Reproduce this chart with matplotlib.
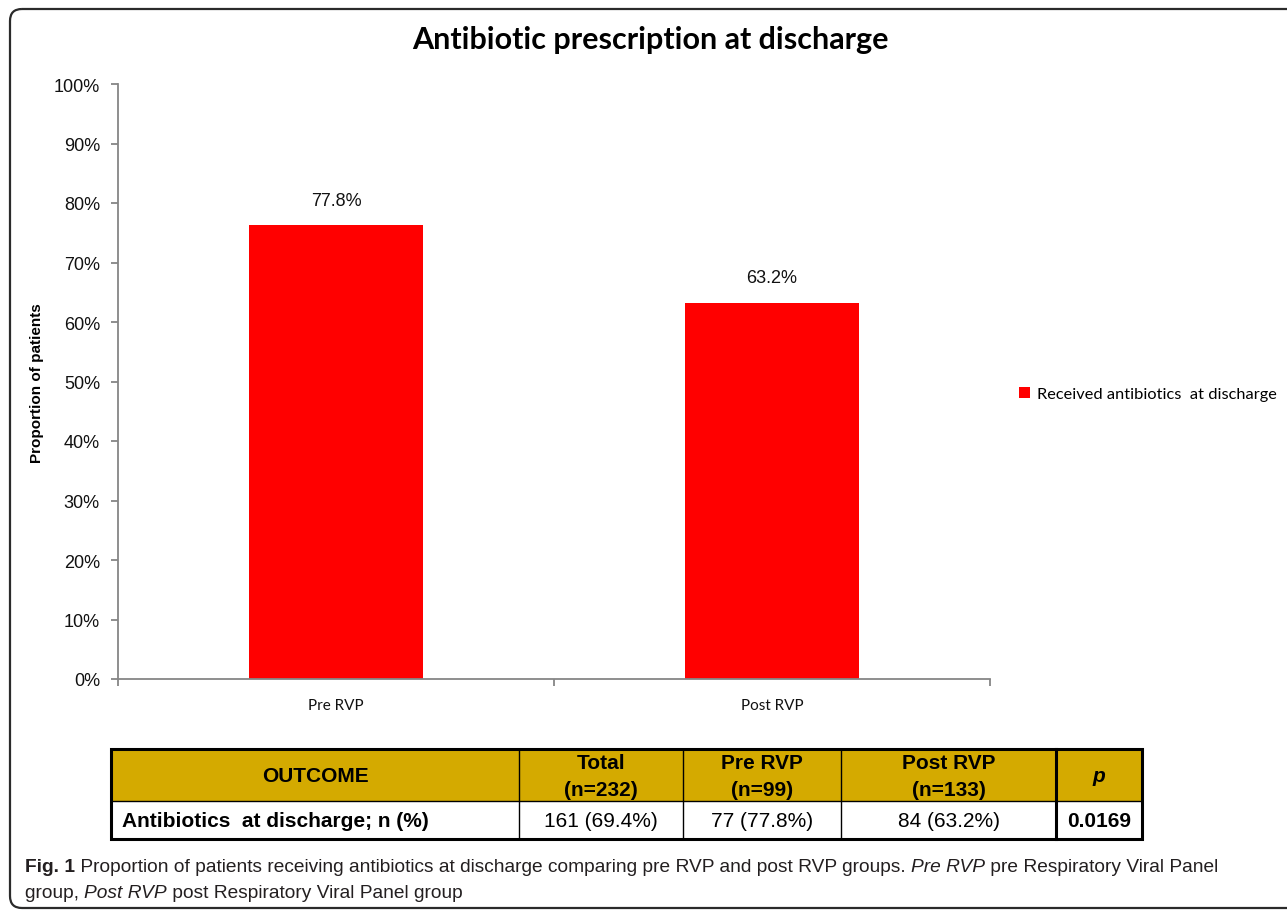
import matplotlib

matplotlib.use("Agg")
import matplotlib.pyplot as plt
from matplotlib.patches import FancyBboxPatch, Rectangle


W, H = 1287, 912

TITLE = "Antibiotic prescription at discharge"
CATEGORIES = ["Pre RVP", "Post RVP"]
BAR_HEIGHTS = [76.3, 63.2]
BAR_LABELS = ["77.8%", "63.2%"]
LEGEND_LABEL = "Received antibiotics  at discharge"
Y_LABEL = "Proportion of patients"
Y_TICKS = [0, 10, 20, 30, 40, 50, 60, 70, 80, 90, 100]
Y_TICK_LABELS = [f"{v}%" for v in Y_TICKS]

TABLE_HEADER = ["OUTCOME", "Total\n(n=232)", "Pre RVP\n(n=99)", "Post RVP\n(n=133)", "p"]
TABLE_ROW = ["Antibiotics  at discharge; n (%)", "161 (69.4%)", "77 (77.8%)", "84 (63.2%)", "0.0169"]

CAPTION_LINE1 = [
    ("Fig. 1", "bold"),
    (" Proportion of patients receiving antibiotics at discharge comparing pre RVP and post RVP groups. ", "normal"),
    ("Pre RVP", "italic"),
    (" pre Respiratory Viral Panel", "normal"),
]
CAPTION_LINE2 = [
    ("group, ", "normal"),
    ("Post RVP", "italic"),
    (" post Respiratory Viral Panel group", "normal"),
]

ARIAL = ["Liberation Sans", "DejaVu Sans"]
CALIBRI = ["Lato", "DejaVu Sans"]
NARROW = ["Liberation Sans Narrow", "Liberation Sans", "DejaVu Sans"]

BAR_COLOR = "#FF0000"
AXIS_GRAY = "#868686"
HEADER_GOLD = "#D4AA00"
CAPTION_COLOR = "#231F20"

COL_EDGES = [111, 519, 683, 841, 1056, 1142]
ROW_EDGES = [750, 802, 840]


def draw_runs(ax, x, y, runs, size):
    """按顺序排布不同字形的文字片段。"""
    renderer = ax.figure.canvas.get_renderer()
    for text, style in runs:
        kw = {"fontsize": size, "family": NARROW, "color": CAPTION_COLOR}
        if style == "bold":
            kw["fontweight"] = "bold"
        elif style == "italic":
            kw["fontstyle"] = "italic"
        t = ax.text(x, y, text, ha="left", va="center", **kw)
        x += t.get_window_extent(renderer=renderer).width


def main() -> None:
    fig = plt.figure(figsize=(W / 100, H / 100), dpi=100)

    # 叠加层：像素坐标，用于边框、表格与图注
    over = fig.add_axes([0, 0, 1, 1])
    over.set_xlim(0, W)
    over.set_ylim(H, 0)
    over.axis("off")

    frame = FancyBboxPatch((10, 10), 1320, 899, boxstyle="round,pad=0,rounding_size=12",
                           facecolor="none", edgecolor="#2b2b2b", linewidth=1.6)
    over.add_patch(frame)

    over.text(650, 40, TITLE, ha="center", va="center", fontsize=22, fontweight="bold",
              family=CALIBRI, color="black")

    ax = fig.add_axes([118 / W, 1 - 680 / H, 872 / W, 595 / H])
    x_pos = list(range(len(CATEGORIES)))
    bars = ax.bar(x_pos, BAR_HEIGHTS, width=0.4, color=BAR_COLOR, label=LEGEND_LABEL, zorder=2)
    for bar, lab in zip(bars, BAR_LABELS):
        ax.annotate(lab, (bar.get_x() + bar.get_width() / 2, bar.get_height()),
                    xytext=(0, 18), textcoords="offset points", ha="center", va="center",
                    fontsize=13, family=ARIAL, color="#111111")

    ax.set_xlim(-0.5, 1.5)
    ax.set_ylim(0, 100)
    for side in ("top", "right"):
        ax.spines[side].set_visible(False)
    for side in ("left", "bottom"):
        ax.spines[side].set_color(AXIS_GRAY)
        ax.spines[side].set_linewidth(1.3)

    ax.set_yticks(Y_TICKS, Y_TICK_LABELS)
    ax.tick_params(axis="y", direction="out", length=5, width=1.3, color=AXIS_GRAY, pad=8,
                   labelsize=13, labelcolor="#111111")
    for t in ax.get_yticklabels():
        t.set_family(ARIAL)

    ax.set_xticks(x_pos, CATEGORIES)
    ax.set_xticks([-0.5, 0.5, 1.5], minor=True)
    ax.tick_params(axis="x", which="major", length=0, pad=14, labelsize=11, labelcolor="#111111")
    ax.tick_params(axis="x", which="minor", direction="out", length=5, width=1.3, color=AXIS_GRAY)
    for t in ax.get_xticklabels():
        t.set_family(CALIBRI)

    over.text(37, 383, Y_LABEL, rotation=90, ha="center", va="center", fontsize=11,
              fontweight="bold", family=ARIAL, color="black")

    handles, labels = ax.get_legend_handles_labels()
    fig.legend(handles, labels, loc="center left", bbox_to_anchor=(1004 / W, 1 - 395 / H),
               frameon=False, handlelength=0.7, handleheight=0.7, handletextpad=0.4,
               prop={"family": CALIBRI, "size": 11.75})

    # 表格
    over.add_patch(Rectangle((COL_EDGES[0], ROW_EDGES[0]), COL_EDGES[-1] - COL_EDGES[0],
                             ROW_EDGES[1] - ROW_EDGES[0], facecolor=HEADER_GOLD, edgecolor="none"))
    for xe in COL_EDGES[1:-1]:
        lw = 2.2 if xe == COL_EDGES[-2] else 1.0
        over.plot([xe, xe], [ROW_EDGES[0], ROW_EDGES[-1]], color="black", linewidth=lw)
    over.plot([COL_EDGES[0], COL_EDGES[-1]], [ROW_EDGES[1], ROW_EDGES[1]], color="black", linewidth=1.0)
    over.add_patch(Rectangle((COL_EDGES[0], ROW_EDGES[0]), COL_EDGES[-1] - COL_EDGES[0],
                             ROW_EDGES[-1] - ROW_EDGES[0], facecolor="none", edgecolor="black",
                             linewidth=2.2))

    y_head = (ROW_EDGES[0] + ROW_EDGES[1]) / 2
    y_row = (ROW_EDGES[1] + ROW_EDGES[2]) / 2
    for i, txt in enumerate(TABLE_HEADER):
        xc = (COL_EDGES[i] + COL_EDGES[i + 1]) / 2
        style = "italic" if txt == "p" else "normal"
        over.text(xc, y_head + 1, txt, ha="center", va="center", fontsize=15, fontweight="bold",
                  fontstyle=style, family=NARROW, linespacing=1.55, color="black")
    for i, txt in enumerate(TABLE_ROW):
        bold = i in (0, len(TABLE_ROW) - 1)
        if i == 0:
            xt, ha = COL_EDGES[0] + 11, "left"
        else:
            xt, ha = (COL_EDGES[i] + COL_EDGES[i + 1]) / 2, "center"
        over.text(xt, y_row + 1, txt, ha=ha, va="center", fontsize=15,
                  fontweight="bold" if bold else "normal", family=NARROW, color="black")

    # 图注
    draw_runs(over, 25, 868, CAPTION_LINE1, 13.8)
    draw_runs(over, 25, 894, CAPTION_LINE2, 13.8)

    fig.savefig("out.png", dpi=100)
    plt.close(fig)


if __name__ == "__main__":
    main()
